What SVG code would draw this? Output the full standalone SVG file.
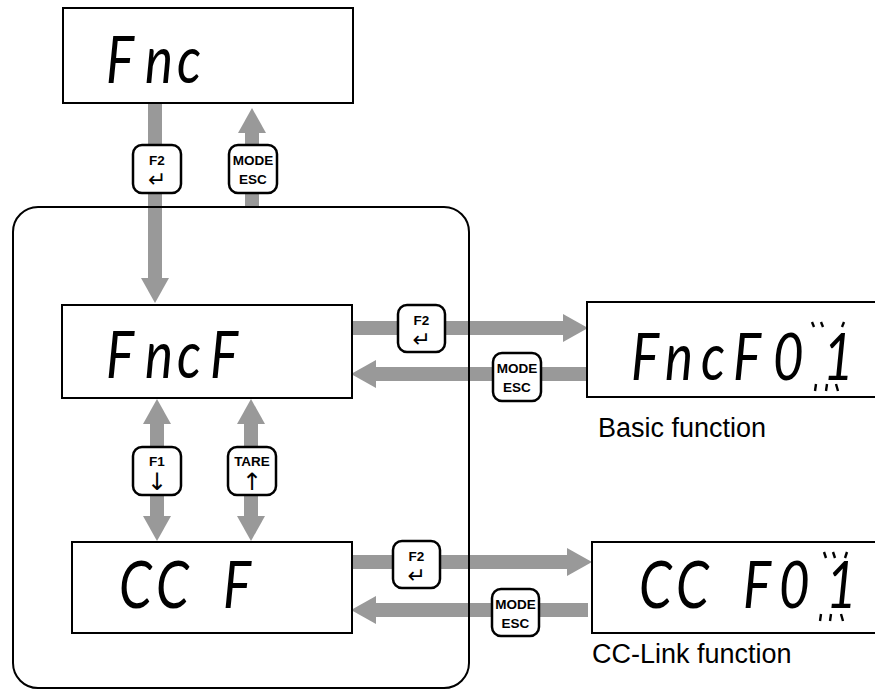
<svg xmlns="http://www.w3.org/2000/svg" width="875" height="690" viewBox="0 0 875 690">
<style>
.box{fill:#fff;stroke:#000;stroke-width:2}
.frame{fill:none;stroke:#000;stroke-width:2}
.seg{font-family:Lato,Inter,"DejaVu Sans",sans-serif;font-weight:400;font-style:italic;font-size:66px;fill:#000}
.conn{stroke:#999;stroke-width:14;fill:none}
.key rect{fill:#fff;stroke:#000;stroke-width:2.5}
.kt{font-family:"Liberation Sans",Arial,sans-serif;font-weight:bold;font-size:13.5px;text-anchor:middle}
.ks{font-family:"DejaVu Sans",sans-serif;font-size:22px;text-anchor:middle;fill:#000;font-variant-emoji:text}
.ka{font-family:"DejaVu Sans",sans-serif;font-size:24px;text-anchor:middle;fill:#000;font-variant-emoji:text}
.lbl{font-family:"Liberation Sans",Arial,sans-serif;font-size:27px}
.blink{stroke:#000;stroke-width:2.4}
</style>
<defs>
<marker id="ah" markerUnits="userSpaceOnUse" markerWidth="25" markerHeight="28" viewBox="0 0 25 28" refX="0" refY="14" orient="auto-start-reverse"><path d="M0,0L25,14L0,28z" fill="#999"/></marker>
</defs>
<g id="connectors">
<line class="conn" x1="155" y1="103" x2="155" y2="278" marker-end="url(#ah)"/>
<line class="conn" x1="252" y1="208" x2="252" y2="133" marker-end="url(#ah)"/>
<line class="conn" x1="352" y1="328" x2="563" y2="328" marker-end="url(#ah)"/>
<line class="conn" x1="587" y1="374" x2="376" y2="374" marker-end="url(#ah)"/>
<line class="conn" x1="157" y1="424" x2="157" y2="516" marker-start="url(#ah)" marker-end="url(#ah)"/>
<line class="conn" x1="251" y1="424" x2="251" y2="516" marker-start="url(#ah)" marker-end="url(#ah)"/>
<line class="conn" x1="352" y1="562" x2="567" y2="562" marker-end="url(#ah)"/>
<line class="conn" x1="588" y1="610" x2="376" y2="610" marker-end="url(#ah)"/>
</g>
<g id="function-frame"><rect class="frame" x="13" y="207" width="456" height="481" rx="25"/></g>
<g id="node-fnc"><rect class="box" x="63" y="8" width="290" height="95"/><text class="seg" transform="scale(0.8 1)" x="132.5 181.25 221.25" y="83">Fnc</text></g>
<g id="node-fncf"><rect class="box" x="62" y="305" width="290" height="93"/><text class="seg" transform="scale(0.8 1)" x="132.5 181.25 221.25 262.5" y="378">FncF</text></g>
<g id="node-ccf"><rect class="box" x="72" y="542" width="280" height="91"/><text class="seg" transform="scale(0.8 1)" x="148.75 195 237.5 278.75" y="608">CC F</text></g>
<g id="node-fncf01"><rect class="box" x="587" y="302" width="290" height="95"/><text class="seg" transform="scale(0.8 1)" x="788.75 831.25 876.25 916.25 966.25 1028.75" y="380">FncF01</text>
<line class="blink" x1="812" y1="322" x2="814" y2="327"/><line class="blink" x1="821" y1="322" x2="823" y2="327"/><line class="blink" x1="844" y1="322" x2="842" y2="327"/>
<line class="blink" x1="816" y1="384" x2="815" y2="391"/><line class="blink" x1="827" y1="384" x2="826" y2="391"/><line class="blink" x1="836" y1="384" x2="838" y2="391"/>
<text class="lbl" x="598" y="437">Basic function</text></g>
<g id="node-ccf01"><rect class="box" x="592" y="542" width="285" height="91"/><text class="seg" transform="scale(0.8 1)" x="798.75 845 887.5 928.75 973.75 1032.5" y="608">CC F01</text>
<line class="blink" x1="824" y1="552" x2="826" y2="558"/><line class="blink" x1="833" y1="552" x2="835" y2="558"/><line class="blink" x1="847" y1="552" x2="845" y2="558"/>
<line class="blink" x1="821" y1="614" x2="820" y2="621"/><line class="blink" x1="831" y1="614" x2="830" y2="621"/><line class="blink" x1="841" y1="614" x2="843" y2="621"/>
<text class="lbl" x="592" y="663">CC-Link function</text></g>
<g id="key-f2-top" class="key"><rect x="133" y="145" width="48" height="48" rx="9"/><text class="kt" x="157" y="165">F2</text><text class="ks" x="157" y="187">↵</text></g>
<g id="key-mode-top" class="key"><rect x="229" y="145" width="48" height="48" rx="9"/><text class="kt" x="253" y="165">MODE</text><text class="kt" x="253" y="184">ESC</text></g>
<g id="key-f2-mid" class="key"><rect x="398" y="305" width="47" height="47" rx="9"/><text class="kt" x="421.5" y="325">F2</text><text class="ks" x="421.5" y="347">↵</text></g>
<g id="key-mode-mid" class="key"><rect x="493" y="353" width="48" height="48" rx="9"/><text class="kt" x="517" y="373">MODE</text><text class="kt" x="517" y="392">ESC</text></g>
<g id="key-f1" class="key"><rect x="133" y="447" width="48" height="48" rx="9"/><text class="kt" x="157" y="466">F1</text><text class="ka" x="157" y="490">↓</text></g>
<g id="key-tare" class="key"><rect x="228" y="447" width="48" height="48" rx="9"/><text class="kt" x="252" y="466">TARE</text><text class="ka" x="252" y="490">↑</text></g>
<g id="key-f2-low" class="key"><rect x="393" y="541" width="47" height="47" rx="9"/><text class="kt" x="416.5" y="561">F2</text><text class="ks" x="416.5" y="583">↵</text></g>
<g id="key-mode-low" class="key"><rect x="492" y="589" width="47" height="47" rx="9"/><text class="kt" x="515.5" y="609">MODE</text><text class="kt" x="515.5" y="628">ESC</text></g>
</svg>
